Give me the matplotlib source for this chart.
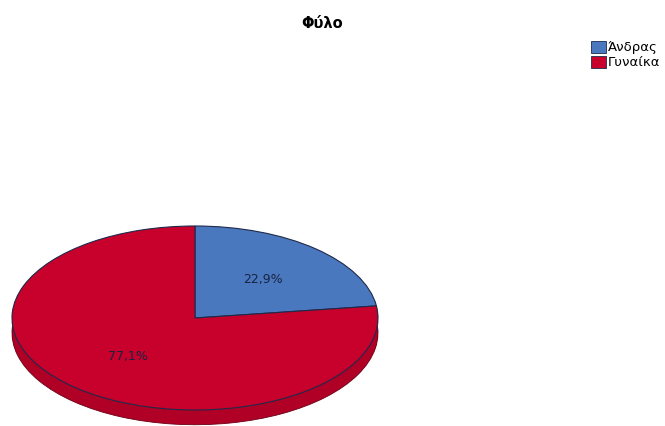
import numpy as np
import matplotlib.pyplot as plt
from matplotlib.patches import Patch

# data
labels = ['Άνδρας', 'Γυναίκα']
shares = [22.9, 77.1]
title = 'Φύλο'

face_colors = ['#4a78bf', '#c8002c']
rim_colors = ['#3a5f9a', '#b00026']
edge = '#1f2a4a'

fig = plt.figure(figsize=(6.65, 4.26), dpi=100)

# pie centre (195, 318) px from top, radii 183 x 92 px
cx, cy, rx, ry = 195, 426 - 318, 183, 92
xl = (-1.05, 1.05)
yl = (-1.18, 1.1)
ax = fig.add_axes([(cx + xl[0] * rx) / 665, (cy + yl[0] * ry) / 426,
                   (xl[1] - xl[0]) * rx / 665, (yl[1] - yl[0]) * ry / 426])

depth = 0.16

def fmt(p):
    return f'{p:.1f}%'.replace('.', ',')

# side of the 3d pie: stacked copies shifted down
for off in np.linspace(-depth, -0.01, 14):
    ax.pie(shares, colors=rim_colors, startangle=90, counterclock=False,
           center=(0, off), wedgeprops=dict(linewidth=0))
ax.pie(shares, colors=['none', 'none'], startangle=90, counterclock=False,
       center=(0, -depth), wedgeprops=dict(linewidth=0.6, edgecolor='#6a0015'))

wedges, texts, autotexts = ax.pie(
    shares, colors=face_colors, startangle=90, counterclock=False,
    autopct=fmt, pctdistance=0.56,
    wedgeprops=dict(linewidth=0.8, edgecolor=edge),
    textprops=dict(fontsize=9, color='#1a2340'))

ax.set_aspect('auto')
ax.set_xlim(*xl)
ax.set_ylim(*yl)
ax.axis('off')

fig.text(322 / 665, 1 - 24 / 426, title, ha='center', va='center',
         fontsize=10.5, fontweight='bold')

handles = [Patch(facecolor=c, edgecolor=edge, linewidth=0.6) for c in face_colors]
fig.legend(handles, labels, loc='upper left', bbox_to_anchor=(591 / 665, 1 - 41 / 426),
           frameon=False, fontsize=9.5, handlelength=1.1, handleheight=1.0,
           handletextpad=0.2, labelspacing=0.1, borderpad=0, borderaxespad=0)

fig.savefig('out.png', dpi=100)
